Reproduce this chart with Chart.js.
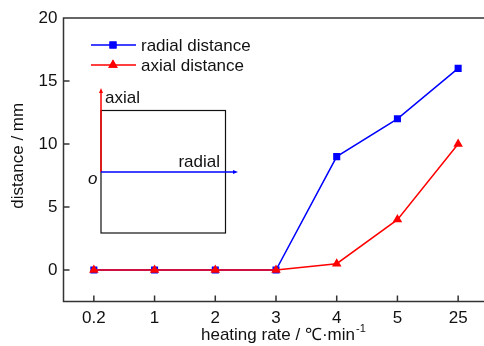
<!DOCTYPE html>
<html>
<head>
<meta charset="utf-8">
<script src="https://cdn.jsdelivr.net/npm/chart.js@4.4.1/dist/chart.umd.min.js"></script>
<style>
  html, body { margin: 0; padding: 0; background: #fff; }
  #wrap { width: 484px; height: 346px; overflow: hidden; }
</style>
</head>
<body>
<div id="wrap"><canvas id="chart" width="494" height="346"></canvas></div>
<script>
// heating rate categories and measured distances (mm)
const rates = ['0.2', '1', '2', '3', '4', '5', '25'];
const radialDistance = [0, 0, 0, 0, 9, 12, 16];
const axialDistance = [0, 0, 0, 0, 0.5, 4, 10];
const yTicks = [0, 5, 10, 15, 20];

const FONT = 'Arial, "Liberation Sans", sans-serif';
const AXIS = '#333';

// frame, inward ticks, titles, legend and the little sketch
const decor = {
    id: 'decor',
    afterDraw(chart) {
        const ctx = chart.ctx;
        const a = chart.chartArea;
        const x = chart.scales.x, y = chart.scales.y;
        ctx.save();
        ctx.strokeStyle = AXIS;
        ctx.lineWidth = 1.5;
        ctx.beginPath();
        ctx.moveTo(a.right + 5, a.top);
        ctx.lineTo(a.left, a.top);
        ctx.lineTo(a.left, a.bottom);
        ctx.lineTo(a.right + 5, a.bottom);
        // ticks pointing inside
        yTicks.forEach(v => {
            const py = y.getPixelForValue(v);
            ctx.moveTo(a.left, py);
            ctx.lineTo(a.left + 6, py);
        });
        rates.forEach((r, i) => {
            const px = x.getPixelForValue(i);
            ctx.moveTo(px, a.bottom);
            ctx.lineTo(px, a.bottom - 6);
        });
        ctx.stroke();

        // axis titles
        ctx.fillStyle = '#111';
        ctx.font = '17px ' + FONT;
        ctx.textBaseline = 'alphabetic';
        ctx.textAlign = 'left';
        const main = 'heating rate / ℃·min';
        const tx = 201, ty = 340;
        ctx.fillText(main, tx, ty);
        const w = ctx.measureText(main).width;
        ctx.font = '11px ' + FONT;
        ctx.fillText('-1', tx + w + 1, ty - 8);

        ctx.save();
        ctx.font = '17px ' + FONT;
        ctx.translate(18, (a.top + a.bottom) / 2 - 4);
        ctx.rotate(-Math.PI / 2);
        ctx.textAlign = 'center';
        ctx.textBaseline = 'middle';
        ctx.fillText('distance / mm', 0, 0);
        ctx.restore();

        // legend
        const items = [
            { ds: chart.data.datasets[0], yy: 45 },
            { ds: chart.data.datasets[1], yy: 65 }
        ];
        items.forEach(it => {
            ctx.strokeStyle = it.ds.borderColor;
            ctx.lineWidth = 1.5;
            ctx.beginPath();
            ctx.moveTo(91, it.yy);
            ctx.lineTo(136, it.yy);
            ctx.stroke();
            ctx.fillStyle = it.ds.borderColor;
            Chart.helpers.drawPoint(ctx, {
                pointStyle: it.ds.pointStyle, radius: it.ds.pointRadius, rotation: 0, borderWidth: 0
            }, 113, it.yy);
            ctx.fill();
            ctx.fillStyle = '#111';
            ctx.font = '17px ' + FONT;
            ctx.textAlign = 'left';
            ctx.textBaseline = 'middle';
            ctx.fillText(it.ds.label, 141, it.yy + 1);
        });

        // sketch of the sample with axial / radial directions
        ctx.strokeStyle = '#111';
        ctx.lineWidth = 1.2;
        ctx.strokeRect(101, 110.5, 124.5, 122.5);
        ctx.strokeStyle = '#ff0000';
        ctx.lineWidth = 1.5;
        ctx.beginPath();
        ctx.moveTo(101, 172);
        ctx.lineTo(101, 92);
        ctx.stroke();
        ctx.fillStyle = '#ff0000';
        ctx.beginPath();
        ctx.moveTo(101, 88);
        ctx.lineTo(103, 93);
        ctx.lineTo(99, 93);
        ctx.closePath();
        ctx.fill();
        ctx.strokeStyle = '#0000ff';
        ctx.beginPath();
        ctx.moveTo(101, 172);
        ctx.lineTo(234, 172);
        ctx.stroke();
        ctx.fillStyle = '#0000ff';
        ctx.beginPath();
        ctx.moveTo(238, 172);
        ctx.lineTo(233, 170);
        ctx.lineTo(233, 174);
        ctx.closePath();
        ctx.fill();

        ctx.fillStyle = '#111';
        ctx.font = '17px ' + FONT;
        ctx.textBaseline = 'alphabetic';
        ctx.textAlign = 'left';
        ctx.fillText('axial', 105, 103);
        ctx.textAlign = 'right';
        ctx.fillText('radial', 220, 167);
        ctx.textAlign = 'left';
        ctx.font = 'italic 17px ' + FONT;
        ctx.fillText('o', 88, 184);
        ctx.restore();
    }
};

new Chart(document.getElementById('chart'), {
    type: 'line',
    data: {
        labels: rates,
        datasets: [{
            label: 'radial distance',
            data: radialDistance,
            borderColor: '#0000ff',
            backgroundColor: '#0000ff',
            borderWidth: 1.5,
            pointStyle: 'rect',
            pointRadius: 5,
            pointBorderWidth: 0,
            order: 1
        }, {
            label: 'axial distance',
            data: axialDistance,
            borderColor: '#ff0000',
            backgroundColor: '#ff0000',
            borderWidth: 1.5,
            pointStyle: 'triangle',
            pointRadius: 5.5,
            pointBorderWidth: 0,
            order: 0
        }]
    },
    options: {
        responsive: false,
        animation: false,
        layout: { padding: { left: 0, top: 18, right: 2.5, bottom: 0 } },
        plugins: { legend: { display: false }, tooltip: { enabled: false } },
        scales: {
            x: {
                offset: true,
                grid: { display: false, drawTicks: false, offset: true },
                border: { display: false },
                ticks: { color: '#111', font: { family: FONT, size: 17 }, padding: 7, maxRotation: 0 },
                afterFit: s => { s.height = 44.5; }
            },
            y: {
                min: -2.5,
                max: 20,
                grid: { display: false, drawTicks: false },
                border: { display: false },
                ticks: { color: '#111', font: { family: FONT, size: 17 }, padding: 6 },
                afterBuildTicks: s => { s.ticks = yTicks.map(v => ({ value: v })); },
                afterFit: s => { s.width = 63.5; }
            }
        }
    },
    plugins: [decor]
});
</script>
</body>
</html>
